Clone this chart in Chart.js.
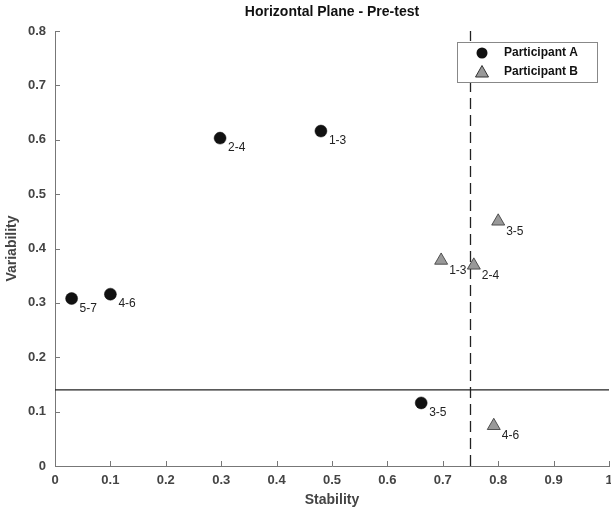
<!DOCTYPE html>
<html><head><meta charset="utf-8">
<script src="https://cdn.jsdelivr.net/npm/chart.js@4/dist/chart.umd.min.js"></script>
<style>html,body{margin:0;padding:0;background:#fff}#wrap{width:611px;height:514px}</style>
</head><body><div id="wrap"><canvas id="c" width="611" height="514"></canvas></div>
<script>
const seriesNames = ['Participant A', 'Participant B'];
const stabilityA = [0.03, 0.10, 0.298, 0.48, 0.661];
const variabilityA = [0.308, 0.316, 0.603, 0.616, 0.116];
const labelsA = ['5-7', '4-6', '2-4', '1-3', '3-5'];
const stabilityB = [0.697, 0.756, 0.80, 0.792];
const variabilityB = [0.378, 0.369, 0.450, 0.074];
const labelsB = ['1-3', '2-4', '3-5', '4-6'];
const stabilityThreshold = 0.75;
const variabilityThreshold = 0.14;
const chartTitle = 'Horizontal Plane - Pre-test';
const xTitle = 'Stability';
const yTitle = 'Variability';

const FONT = '"Liberation Sans", Arial, Helvetica, sans-serif';
const toPts = (xs, ys) => xs.map((x, i) => ({x, y: ys[i]}));
const fmt = v => String(+Number(v).toFixed(1));

const extras = {
  id: 'extras',
  afterDatasetsDraw(chart) {
    const ctx = chart.ctx, xs = chart.scales.x, ys = chart.scales.y, ca = chart.chartArea;
    ctx.save();
    ctx.strokeStyle = '#777'; ctx.lineWidth = 1;
    xs.ticks.forEach(t => { const px = Math.round(xs.getPixelForValue(t.value)) + 0.5;
      ctx.beginPath(); ctx.moveTo(px, ca.bottom); ctx.lineTo(px, ca.bottom - 5); ctx.stroke(); });
    ys.ticks.forEach(t => { const py = Math.round(ys.getPixelForValue(t.value)) + 0.5;
      ctx.beginPath(); ctx.moveTo(ca.left, py); ctx.lineTo(ca.left + 5, py); ctx.stroke(); });
    ctx.fillStyle = '#222'; ctx.font = '12px ' + FONT; ctx.textAlign = 'left'; ctx.textBaseline = 'middle';
    const lab = (xv, yv, l) => l.forEach((s, i) => ctx.fillText(s, xs.getPixelForValue(xv[i]) + 8, ys.getPixelForValue(yv[i]) + 10));
    lab(stabilityA, variabilityA, labelsA);
    lab(stabilityB, variabilityB, labelsB);
    ctx.fillStyle = '#111'; ctx.font = 'bold 14px ' + FONT; ctx.textAlign = 'center';
    ctx.fillText(chartTitle, (ca.left + ca.right) / 2, 12);
    const lx = 457, ly = 42, lw = 140, lh = 40;
    ctx.fillStyle = '#fff'; ctx.fillRect(lx, ly, lw, lh);
    ctx.strokeStyle = '#888'; ctx.lineWidth = 1; ctx.strokeRect(lx + 0.5, ly + 0.5, lw, lh);
    ctx.fillStyle = '#111'; ctx.beginPath(); ctx.arc(482, 53, 5.5, 0, Math.PI * 2); ctx.fill();
    ctx.fillStyle = '#999'; ctx.strokeStyle = '#333'; ctx.beginPath();
    ctx.moveTo(482, 65.5); ctx.lineTo(488.5, 77); ctx.lineTo(475.5, 77); ctx.closePath(); ctx.fill(); ctx.stroke();
    ctx.fillStyle = '#111'; ctx.font = 'bold 12px ' + FONT; ctx.textAlign = 'left';
    ctx.fillText(seriesNames[0], 504, 53);
    ctx.fillText(seriesNames[1], 504, 72);
    ctx.restore();
  }
};

new Chart(document.getElementById('c'), {
  type: 'scatter',
  data: {
    datasets: [
      { label: 'vline', type: 'line', data: [{x: stabilityThreshold, y: 0}, {x: stabilityThreshold, y: 0.8}],
        borderColor: '#222', borderWidth: 1.3, borderDash: [11, 6], pointRadius: 0, fill: false, order: 3 },
      { label: 'hline', type: 'line', data: [{x: 0, y: variabilityThreshold}, {x: 1, y: variabilityThreshold}],
        borderColor: '#222', borderWidth: 1.3, pointRadius: 0, fill: false, order: 3 },
      { label: seriesNames[0], data: toPts(stabilityA, variabilityA), pointStyle: 'circle', pointRadius: 6,
        backgroundColor: '#111', borderColor: '#111', borderWidth: 0.5, order: 1 },
      { label: seriesNames[1], data: toPts(stabilityB, variabilityB), pointStyle: 'triangle', pointRadius: 7.5,
        backgroundColor: '#999', borderColor: '#333', borderWidth: 0.8, order: 1 }
    ]
  },
  options: {
    responsive: false, animation: false, devicePixelRatio: 1,
    layout: { autoPadding: false, padding: { top: 31, right: 2, left: 0, bottom: 0 } },
    plugins: { legend: { display: false }, tooltip: { enabled: false }, title: { display: false } },
    scales: {
      x: { type: 'linear', min: 0, max: 1,
        afterFit(s) { s.height = 48; s.paddingRight = 0; s.paddingLeft = 0; },
        grid: { display: false, drawTicks: false }, border: { display: true, color: '#777', width: 1 },
        ticks: { stepSize: 0.1, padding: 7, color: '#444', callback: fmt, font: { family: FONT, size: 13, weight: 'bold' } },
        title: { display: true, text: xTitle, color: '#444', padding: { top: 0, bottom: 5 }, font: { family: FONT, size: 14, weight: 'bold' } } },
      y: { type: 'linear', min: 0, max: 0.8,
        afterFit(s) { s.width = 55; s.paddingTop = 0; s.paddingBottom = 0; },
        grid: { display: false, drawTicks: false }, border: { display: true, color: '#777', width: 1 },
        ticks: { stepSize: 0.1, padding: 9, color: '#444', callback: fmt, font: { family: FONT, size: 13, weight: 'bold' } },
        title: { display: true, text: yTitle, color: '#444', padding: { top: 4, bottom: 0 }, font: { family: FONT, size: 14, weight: 'bold' } } }
    }
  },
  plugins: [extras]
});
</script></body></html>
